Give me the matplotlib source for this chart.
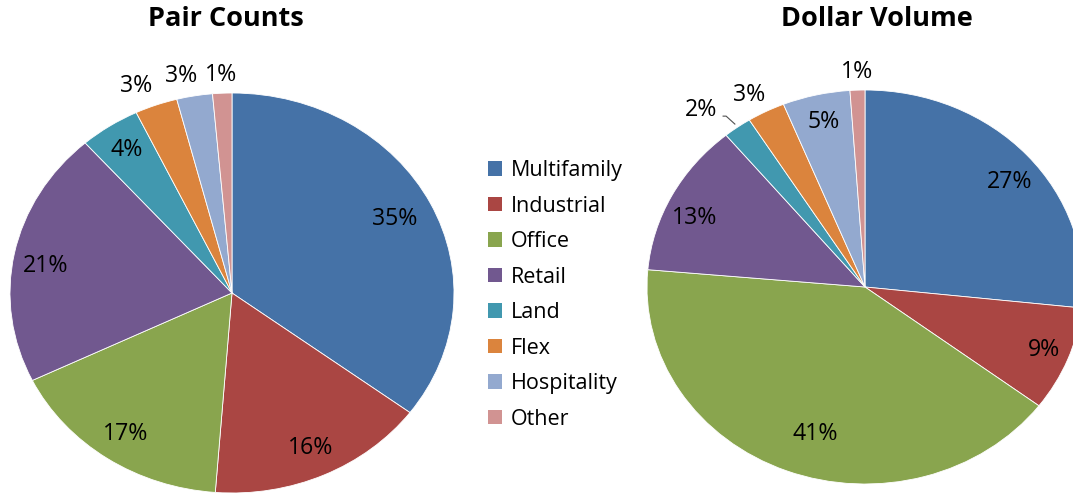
import numpy as np
import matplotlib
matplotlib.use('Agg')
import matplotlib.pyplot as plt
from matplotlib.patches import Patch

plt.rcParams['font.family'] = ['Open Sans', 'DejaVu Sans']

# Donnees (parts en %)
categories = ['Multifamily', 'Industrial', 'Office', 'Retail', 'Land', 'Flex', 'Hospitality', 'Other']
pair_counts = [35.2, 16.0, 16.6, 20.7, 4.4, 3.1, 2.6, 1.4]
dollar_volume = [26.7, 8.6, 41.1, 12.6, 2.1, 2.8, 5.0, 1.1]
colors = ['#4572A7', '#AA4643', '#89A54E', '#71588F', '#4198AF', '#DB843D', '#93A9CF', '#D19392']

# Position des etiquettes: rayon et decalage angulaire (degres)
left_r = [0.82, 0.85, 0.85, 0.85, 0.86, 1.12, 1.11, 1.09]
left_dt = [0, 0, 0, 2.3, 0, 2.7, 2.2, 0]
right_r = [0.85, 0.88, 0.78, 0.855, 1.17, 1.11, 0.86, 1.09]
right_dt = [-3.2, 0.2, 4.1, 3.6, 4.1, 1.5, -0.2, -0.1]

W, H = 1073, 494
fig = plt.figure(figsize=(W / 100, H / 100), dpi=100)


def draw_pie(ax, values, radii, dtheta, leader=None):
    wedges, _ = ax.pie(values, colors=colors, startangle=90, counterclock=False,
                       radius=1, wedgeprops=dict(edgecolor='white', linewidth=0.6))
    ax.set_aspect('auto')
    ax.set_xlim(-1, 1)
    ax.set_ylim(-1, 1)
    ax.axis('off')
    for w in wedges:
        w.set_clip_on(False)
    total = sum(values)
    for i, w in enumerate(wedges):
        mid = np.deg2rad((w.theta1 + w.theta2) / 2 + dtheta[i])
        x, y = radii[i] * np.cos(mid), radii[i] * np.sin(mid)
        ax.text(x, y, f'{values[i] / total * 100:.0f}%', ha='center', va='center',
                fontsize=16.7, color='black', clip_on=False)
        if leader == i:
            m0 = np.deg2rad((w.theta1 + w.theta2) / 2)
            x0, y0 = 1.02 * np.cos(m0), 1.02 * np.sin(m0)
            ax.plot([x0, x0 - 0.04, x + 0.1], [y0, y - 0.03, y - 0.03],
                    color='#505050', lw=0.8, clip_on=False)
    return wedges


ax1 = fig.add_axes([10 / W, 1 / H, 444 / W, 400 / H])
draw_pie(ax1, pair_counts, left_r, left_dt)
ax2 = fig.add_axes([647 / W, 10 / H, 436 / W, 394 / H])
draw_pie(ax2, dollar_volume, right_r, right_dt, leader=4)

fig.text(226 / W, 1 - 19 / H, 'Pair Counts', ha='center', va='center',
         fontsize=19.5, fontweight='bold')
fig.text(877 / W, 1 - 19 / H, 'Dollar Volume', ha='center', va='center',
         fontsize=19.5, fontweight='bold')

handles = [Patch(facecolor=c, edgecolor='none') for c in colors]
fig.legend(handles, categories, loc='upper left', bbox_to_anchor=(488 / W, 1 - 160 / H),
           frameon=False, fontsize=15.5, handlelength=0.65, handleheight=0.65,
           handletextpad=0.4, labelspacing=0.675, borderpad=0, borderaxespad=0)

fig.savefig('out.png', dpi=100)
